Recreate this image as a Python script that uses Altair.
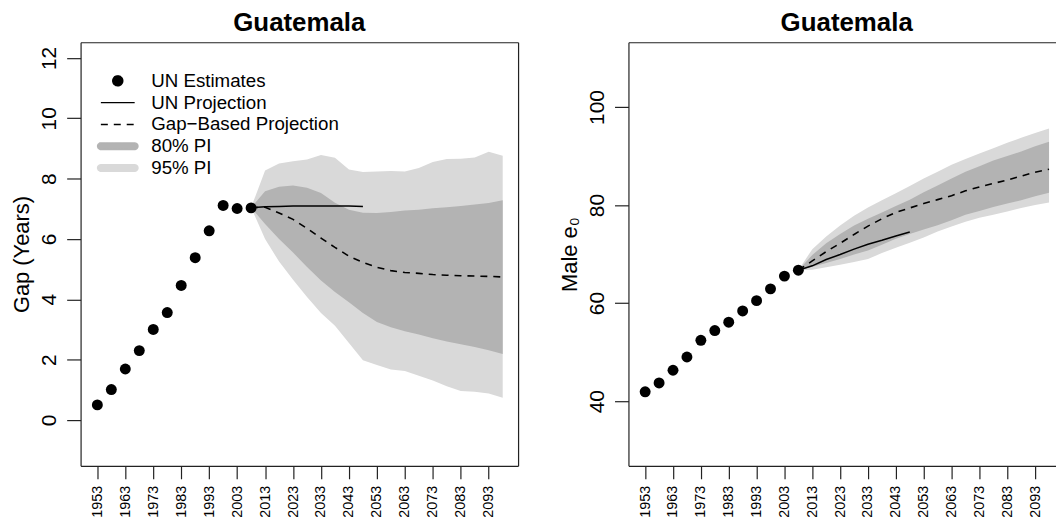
import altair as alt
import pandas as pd

FONT = "Liberation Sans"

# ---------------- data ----------------
est_years = [1953, 1958, 1963, 1968, 1973, 1978, 1983, 1988, 1993, 1998, 2003, 2008]
gap_est = [0.50, 1.01, 1.69, 2.30, 3.00, 3.56, 4.46, 5.38, 6.27, 7.11, 7.01, 7.03]
male_est = [41.9, 43.7, 46.3, 49.0, 52.4, 54.4, 56.1, 58.4, 60.5, 62.9, 65.5, 66.7]

un_years = [2008, 2013, 2018, 2023, 2028, 2033, 2038, 2043, 2048]
gap_un = [7.04, 7.07, 7.08, 7.09, 7.09, 7.09, 7.09, 7.09, 7.08]
male_un = [66.7, 67.6, 68.9, 69.9, 71.0, 72.0, 72.8, 73.7, 74.5]

proj_years = [2008, 2013, 2018, 2023, 2028, 2033, 2038, 2043, 2048, 2053,
              2058, 2063, 2068, 2073, 2078, 2083, 2088, 2093, 2098]
gap_med = [7.04, 7.05, 6.86, 6.65, 6.35, 6.03, 5.72, 5.43, 5.22, 5.06,
           4.95, 4.89, 4.86, 4.82, 4.80, 4.78, 4.77, 4.76, 4.74]
gap_hi80 = [7.04, 7.58, 7.73, 7.77, 7.70, 7.52, 7.20, 6.97, 6.87, 6.86,
            6.89, 6.94, 6.97, 7.02, 7.05, 7.09, 7.14, 7.19, 7.28]
gap_lo80 = [7.04, 6.50, 6.00, 5.55, 5.07, 4.62, 4.24, 3.90, 3.55, 3.25,
            3.07, 2.94, 2.83, 2.71, 2.60, 2.51, 2.42, 2.31, 2.19]
gap_hi95 = [7.04, 8.27, 8.50, 8.58, 8.63, 8.78, 8.69, 8.30, 8.22, 8.24,
            8.25, 8.24, 8.35, 8.55, 8.65, 8.66, 8.70, 8.89, 8.76]
gap_lo95 = [7.04, 6.00, 5.25, 4.65, 4.08, 3.55, 3.12, 2.55, 1.98, 1.82,
            1.67, 1.62, 1.47, 1.31, 1.12, 0.96, 0.94, 0.88, 0.74]

male_med = [66.7, 68.6, 70.5, 72.2, 74.0, 75.7, 77.2, 78.5, 79.4, 80.3,
            81.1, 81.9, 82.9, 83.7, 84.4, 85.1, 85.9, 86.7, 87.3]
male_hi80 = [66.7, 69.8, 72.2, 74.1, 75.8, 77.2, 78.5, 79.8, 81.1, 82.6,
             84.0, 85.4, 86.8, 87.9, 89.1, 90.0, 90.9, 92.0, 92.9]
male_lo80 = [66.7, 67.4, 68.2, 69.0, 69.9, 70.7, 71.9, 73.1, 74.1, 75.0,
             75.9, 76.9, 78.0, 78.8, 79.6, 80.3, 81.0, 81.8, 82.5]
male_hi95 = [66.7, 71.0, 73.6, 75.8, 77.8, 79.5, 81.0, 82.4, 83.9, 85.4,
             86.8, 88.2, 89.4, 90.5, 91.6, 92.7, 93.7, 94.7, 95.6]
male_lo95 = [66.7, 66.8, 67.3, 67.8, 68.4, 69.0, 70.2, 71.3, 72.3, 73.4,
             74.6, 75.6, 76.6, 77.4, 78.0, 78.7, 79.4, 80.0, 80.5]

legend_labels = ["UN Estimates", "UN Projection", "Gap\u2212Based Projection", "80% PI", "95% PI"]
tick_years = [1953, 1963, 1973, 1983, 1993, 2003, 2013, 2023, 2033, 2043, 2053, 2063, 2073, 2083, 2093]
gap_ticks = [0, 2, 4, 6, 8, 10, 12]
male_ticks = [40, 60, 80, 100]
country = "Guatemala"
gap_title = "Gap (Years)"
male_title = "Male e\u2080"

# ---------------- tables ----------------
est_df = pd.DataFrame({"year": est_years, "gap": gap_est, "male": male_est})
un_df = pd.DataFrame({"year": un_years, "gap": gap_un, "male": male_un})
proj_df = pd.DataFrame({
    "year": proj_years,
    "gap_med": gap_med, "gap_lo80": gap_lo80, "gap_hi80": gap_hi80,
    "gap_lo95": gap_lo95, "gap_hi95": gap_hi95,
    "male_med": male_med, "male_lo80": male_lo80, "male_hi80": male_hi80,
    "male_lo95": male_lo95, "male_hi95": male_hi95,
})
legend_df = pd.DataFrame({"label": legend_labels,
                          "year": [None] * len(legend_labels),
                          "gap": [None] * len(legend_labels)})

FRAME = "#222222"
DARK = "#b3b3b3"
LIGHT = "#d9d9d9"
H = 426


def bottom_axis():
    return alt.Axis(values=tick_years, format="d", labelAngle=270, labelAlign="right",
                    labelBaseline="middle", tickSize=13, labelPadding=6.5,
                    labelFontSize=14.5, labelFont=FONT, labelColor="black",
                    tickColor=FRAME, tickWidth=1.2, domainColor=FRAME, domainWidth=1.2,
                    grid=False, title=None, labelOverlap=False, labelFlush=False)


def top_axis():
    return alt.Axis(orient="top", labels=False, ticks=False, domain=True,
                    domainColor=FRAME, domainWidth=1.2, grid=False, title=None,
                    minExtent=0, maxExtent=0)


def left_axis(values, title):
    return alt.Axis(values=values, format="d", labelAngle=270, labelAlign="center",
                    labelBaseline="alphabetic", tickSize=14, labelPadding=11.5,
                    labelFontSize=21, labelFont=FONT, labelColor="black",
                    tickColor=FRAME, tickWidth=1.2, domainColor=FRAME, domainWidth=1.2,
                    grid=False, title=title, titleFont=FONT, titleFontSize=22,
                    titleFontWeight="normal", titleColor="black", titleAngle=270,
                    titleAlign="center", titleBaseline="alphabetic",
                    titleX=-52.5, titleY=H / 2, labelOverlap=False, labelFlush=False)


def right_axis():
    return alt.Axis(orient="right", labels=False, ticks=False, domain=True,
                    domainColor=FRAME, domainWidth=1.2, grid=False, title=None,
                    minExtent=0, maxExtent=0)


def title_params(dx=0):
    return alt.TitleParams(country, font=FONT, fontSize=26, fontWeight="bold",
                           color="black", anchor="middle", baseline="alphabetic",
                           offset=-14.8, dx=dx)


def panel(prefix, est_field, xdom, ydom, yticks, ytitle, full_box, legend, width, dx):
    xs = alt.Scale(domain=xdom, nice=False, zero=False)
    ys = alt.Scale(domain=ydom, nice=False, zero=False)

    a95 = alt.Chart(proj_df).mark_area(color=LIGHT, opacity=1).encode(
        x=alt.X("year:Q", scale=xs, axis=bottom_axis()),
        y=alt.Y(f"{prefix}_lo95:Q", scale=ys, axis=left_axis(yticks, ytitle)),
        y2=f"{prefix}_hi95:Q",
    )
    a80 = alt.Chart(proj_df).mark_area(color=DARK, opacity=1).encode(
        x=alt.X("year:Q", scale=xs, axis=top_axis()),
        y=alt.Y(f"{prefix}_lo80:Q", scale=ys, axis=right_axis() if full_box else None),
        y2=f"{prefix}_hi80:Q",
    )
    un_line = alt.Chart(un_df).mark_line(color="black", strokeWidth=1.5).encode(
        x=alt.X("year:Q", scale=xs, axis=None),
        y=alt.Y(f"{est_field}:Q", scale=ys, axis=None),
    )
    med_line = alt.Chart(proj_df).mark_line(color="black", strokeWidth=1.6,
                                            strokeDash=[7, 6]).encode(
        x=alt.X("year:Q", scale=xs, axis=None),
        y=alt.Y(f"{prefix}_med:Q", scale=ys, axis=None),
    )
    pts = alt.Chart(est_df).mark_circle(color="black", size=121, opacity=1).encode(
        x=alt.X("year:Q", scale=xs, axis=None),
        y=alt.Y(f"{est_field}:Q", scale=ys, axis=None),
    )
    layers = [a95, a80, un_line, med_line, pts]

    if legend:
        shapes = ["circle", "M-3.4,0H3.4", "M-3.4,0H3.4",
                  "M-3.4,-0.65H3.4A0.65,0.65,0,0,1,3.4,0.65H-3.4A0.65,0.65,0,0,1,-3.4,-0.65Z",
                  "M-3.4,-0.65H3.4A0.65,0.65,0,0,1,3.4,0.65H-3.4A0.65,0.65,0,0,1,-3.4,-0.65Z"]
        fills = ["black", "transparent", "transparent", DARK, LIGHT]
        strokes = ["black", "black", "black", DARK, LIGHT]
        dashes = [[1, 0], [1, 0], [7, 6], [1, 0], [1, 0]]
        leg = alt.Legend(title=None, orient="none", legendX=28, legendY=29.4,
                         padding=0, labelFont=FONT, labelFontSize=18.8, labelColor="black",
                         labelOffset=24.3, symbolOffset=0, rowPadding=1.9,
                         symbolSize=100, symbolStrokeWidth=1.5, symbolOpacity=1,
                         labelLimit=400)
        lg = alt.Chart(legend_df).mark_point(opacity=1, strokeWidth=1.5, filled=False).encode(
            x=alt.X("year:Q", scale=xs, axis=None),
            y=alt.Y("gap:Q", scale=ys, axis=None),
            shape=alt.Shape("label:N", scale=alt.Scale(domain=legend_labels, range=shapes), legend=leg),
            fill=alt.Fill("label:N", scale=alt.Scale(domain=legend_labels, range=fills), legend=leg),
            stroke=alt.Stroke("label:N", scale=alt.Scale(domain=legend_labels, range=strokes), legend=leg),
            strokeDash=alt.StrokeDash("label:N", scale=alt.Scale(domain=legend_labels, range=dashes), legend=leg),
        )
        layers.append(lg)

    return alt.layer(*layers).resolve_axis(x="independent", y="independent").properties(
        width=width, height=H, title=title_params(dx))


left = panel("gap", "gap", [1947, 2103.5], [-1.52, 12.52], gap_ticks, gap_title,
             True, True, 440, 0)
right = panel("male", "male", [1947, 2100.5], [26.8, 113.2], male_ticks, male_title,
              False, False, 430, 4.5)

chart = alt.hconcat(left, right, spacing=40).resolve_legend(
    shape="independent", fill="independent", stroke="independent", strokeDash="independent"
).properties(
    padding={"left": 2, "top": 0, "right": 0, "bottom": 0},
    background="white",
).configure_view(strokeWidth=0)

chart.save("out.html", embed_options={"renderer": "svg", "actions": False})
